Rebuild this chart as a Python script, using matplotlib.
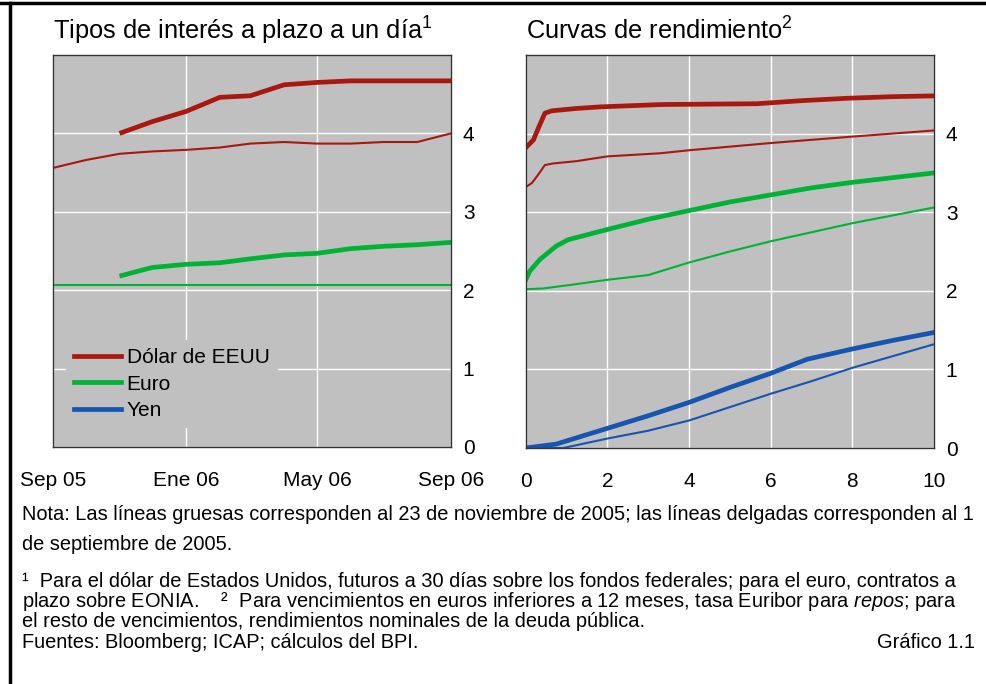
import datetime as dt

import matplotlib.pyplot as plt
from matplotlib.lines import Line2D

plt.rcParams['font.family'] = ['Liberation Sans', 'DejaVu Sans']
plt.rcParams['mathtext.fontset'] = 'custom'
plt.rcParams['mathtext.rm'] = 'Liberation Sans'
plt.rcParams['mathtext.it'] = 'Liberation Sans:italic'

RED = '#a8180f'
GREEN = '#00b336'
BLUE = '#1655b0'
BG = '#c0c0c0'

# Left panel: implied overnight rates (monthly contracts)
months = [dt.date(2005, 9, 1), dt.date(2005, 10, 1), dt.date(2005, 11, 1),
          dt.date(2005, 12, 1), dt.date(2006, 1, 1), dt.date(2006, 2, 1),
          dt.date(2006, 3, 1), dt.date(2006, 4, 1), dt.date(2006, 5, 1),
          dt.date(2006, 6, 1), dt.date(2006, 7, 1), dt.date(2006, 8, 1),
          dt.date(2006, 9, 1)]
usd_sep = [3.56, 3.66, 3.74, 3.77, 3.79, 3.82, 3.87, 3.89, 3.87, 3.87, 3.89, 3.89, 4.00]
usd_nov = [4.00, 4.15, 4.28, 4.46, 4.48, 4.62, 4.65, 4.67, 4.67, 4.67, 4.67]
eur_sep = [2.07, 2.07, 2.07, 2.07, 2.07, 2.07, 2.07, 2.07, 2.07, 2.07, 2.07, 2.07, 2.07]
eur_nov = [2.18, 2.29, 2.33, 2.35, 2.40, 2.45, 2.47, 2.53, 2.56, 2.58, 2.61]
left_ticks = [dt.date(2005, 9, 1), dt.date(2006, 1, 1), dt.date(2006, 5, 1), dt.date(2006, 9, 1)]
left_ticklabels = ['Sep 05', 'Ene 06', 'May 06', 'Sep 06']

# Right panel: yield curves (maturity in years)
usd_nov_m = [0, 0.19, 0.31, 0.47, 0.64, 1.25, 1.82, 3.33, 5.66, 6.79, 7.9, 9.0, 10]
usd_nov_y = [3.82, 3.92, 4.07, 4.26, 4.29, 4.32, 4.34, 4.37, 4.38, 4.42, 4.45, 4.47, 4.48]
usd_sep_m = [0, 0.15, 0.31, 0.47, 0.67, 1.25, 2.0, 3.3, 4.04, 6.0, 7.96, 10]
usd_sep_y = [3.32, 3.37, 3.48, 3.60, 3.62, 3.65, 3.71, 3.75, 3.79, 3.88, 3.96, 4.04]
eur_nov_m = [0, 0.1, 0.35, 0.75, 1.04, 2.0, 3.0, 4.0, 5.0, 6.0, 7.0, 8.0, 9.0, 10]
eur_nov_y = [2.14, 2.25, 2.40, 2.57, 2.65, 2.78, 2.91, 3.02, 3.13, 3.22, 3.31, 3.38, 3.44, 3.50]
eur_sep_m = [0, 0.43, 1.17, 2.0, 3.0, 4.0, 5.0, 6.0, 8.0, 10]
eur_sep_y = [2.02, 2.03, 2.08, 2.14, 2.20, 2.36, 2.50, 2.63, 2.86, 3.06]
jpy_nov_m = [0, 0.75, 2.0, 3.0, 4.0, 5.0, 6.0, 6.9, 8.0, 9.0, 10]
jpy_nov_y = [0.0, 0.05, 0.25, 0.41, 0.58, 0.77, 0.95, 1.13, 1.26, 1.37, 1.47]
jpy_sep_m = [0, 0.92, 2.0, 3.0, 4.0, 5.0, 6.0, 7.0, 8.0, 9.0, 10]
jpy_sep_y = [0.0, 0.0, 0.12, 0.22, 0.35, 0.52, 0.69, 0.85, 1.02, 1.17, 1.32]

THICK = 3.4
THIN = 1.5

fig = plt.figure(figsize=(9.86, 6.84), dpi=100)


def style_axes(ax):
    ax.set_facecolor(BG)
    ax.grid(True, color='white', lw=1)
    ax.set_axisbelow(True)
    for s in ax.spines.values():
        s.set_color('#333333')
        s.set_linewidth(1)
    ax.set_ylim(0, 5)
    ax.set_yticks([0, 1, 2, 3, 4])
    ax.yaxis.tick_right()
    ax.tick_params(axis='both', length=0, labelsize=15, colors='black')
    ax.tick_params(axis='y', pad=8.5)
    ax.tick_params(axis='x', pad=17)


# left panel
ax1 = fig.add_axes([53 / 986, 1 - 447 / 684, 398 / 986, 392 / 684])
style_axes(ax1)
ax1.plot(months, usd_sep, color=RED, lw=THIN)
ax1.plot(months[2:], usd_nov, color=RED, lw=THICK, solid_capstyle='butt')
ax1.plot(months, eur_sep, color=GREEN, lw=THIN)
ax1.plot(months[2:], eur_nov, color=GREEN, lw=THICK, solid_capstyle='butt')
ax1.set_xlim(months[0], months[-1])
ax1.set_xticks(left_ticks)
ax1.set_xticklabels(left_ticklabels)
ax1.set_title('Tipos de interés a plazo a un día$^{\\mathrm{1}}$', loc='left',
              fontsize=18.3, pad=11)

handles = [Line2D([], [], color=RED, lw=THICK),
           Line2D([], [], color=GREEN, lw=THICK),
           Line2D([], [], color=BLUE, lw=THICK)]
leg = ax1.legend(handles, ['Dólar de EEUU', 'Euro', 'Yen'], loc='lower left',
                 bbox_to_anchor=(0.033, 0.048), borderaxespad=0, fontsize=15,
                 frameon=True, fancybox=False, handlelength=2.25,
                 handletextpad=0.25, labelspacing=0.35, borderpad=0.4)
leg.get_frame().set_facecolor(BG)
leg.get_frame().set_edgecolor('none')
leg.get_frame().set_alpha(1)

# right panel
ax2 = fig.add_axes([525.7 / 986, 1 - 448 / 684, 408.3 / 986, 393 / 684])
style_axes(ax2)
ax2.plot(usd_sep_m, usd_sep_y, color=RED, lw=THIN)
ax2.plot(usd_nov_m, usd_nov_y, color=RED, lw=THICK)
ax2.plot(eur_sep_m, eur_sep_y, color=GREEN, lw=THIN)
ax2.plot(eur_nov_m, eur_nov_y, color=GREEN, lw=THICK)
ax2.plot(jpy_sep_m, jpy_sep_y, color=BLUE, lw=THIN)
ax2.plot(jpy_nov_m, jpy_nov_y, color=BLUE, lw=THICK)
ax2.set_xlim(0, 10)
ax2.set_xticks([0, 2, 4, 6, 8, 10])
ax2.set_title('Curvas de rendimiento$^{\\mathrm{2}}$', loc='left', fontsize=18.3, pad=11)

# frame lines
fig.add_artist(Line2D([0, 1], [1 - 3.3 / 684] * 2, transform=fig.transFigure,
                      color='black', lw=2.5))
fig.add_artist(Line2D([9.5 / 986] * 2, [0, 1 - 3.3 / 684], transform=fig.transFigure,
                      color='black', lw=2.5))

# notes
notes = [
    (520, 'Nota: Las líneas gruesas corresponden al 23 de noviembre de 2005; '
          'las líneas delgadas corresponden al 1'),
    (550, 'de septiembre de 2005.'),
    (587, '¹  Para el dólar de Estados Unidos, futuros a 30 días sobre los fondos '
          'federales; para el euro, contratos a'),
    (607, 'plazo sobre EONIA.    ²  Para vencimientos en euros inferiores a 12 meses, '
          'tasa Euribor para $\\mathit{repos}$; para'),
    (627, 'el resto de vencimientos, rendimientos nominales de la deuda pública.'),
    (648, 'Fuentes: Bloomberg; ICAP; cálculos del BPI.'),
]
for ypx, txt in notes:
    fig.text(22 / 986, 1 - ypx / 684, txt, fontsize=14.4, va='baseline', ha='left')
fig.text(975 / 986, 1 - 648 / 684, 'Gráfico 1.1', fontsize=14.4, va='baseline', ha='right')

fig.savefig('out.png', dpi=100)
